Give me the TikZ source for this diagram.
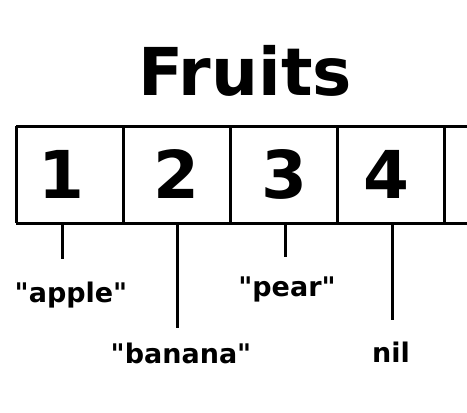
\documentclass[tikz,border=0pt]{standalone}
\usepackage{fontspec}
\setmainfont{DejaVu Sans}
\usetikzlibrary{positioning}

\begin{document}
\begin{tikzpicture}[
		x=1pt,y=-1pt,
		line width=3pt,
		every node/.style={font=\bfseries, inner sep=0pt},
		title/.style={font=\bfseries\fontsize{66}{66}\selectfont},
		digit/.style={font=\bfseries\fontsize{66}{66}\selectfont},
		word/.style={font=\bfseries\fontsize{27}{27}\selectfont}
		]
		\useasboundingbox (0,0) rectangle (467,413);
		
		% =========================
		% title
		% =========================
		\node[title] (ttl) at (245,71) {Fruits};
		
		% =========================
		% array cells
		% =========================
		\draw (16,126) -- (467,126);
		\draw (16,223) -- (467,223);
		\foreach \xx in {16,123,230,337,444}
		\draw (\xx,126) -- (\xx,223);
		
		\node[digit] (d1) at (61,174) {1};
		\node[digit] (d2) at (176,174) {2};
		\node[digit] (d3) at (284,174) {3};
		\node[digit] (d4) at (386,174) {4};
		
		% =========================
		% values hanging below
		% =========================
		\coordinate (t1) at (62,223);
		\coordinate (e1) at (62,259);
		\coordinate (t2) at (177,223);
		\coordinate (e2) at (177,328);
		\coordinate (t3) at (285,223);
		\coordinate (e3) at (285,257);
		\coordinate (t4) at (392,223);
		\coordinate (e4) at (392,320);
		
		\draw (t1) -- (e1);
		\draw (t2) -- (e2);
		\draw (t3) -- (e3);
		\draw (t4) -- (e4);
		
		\node[word] (v1) at (71,295) {\textquotedbl apple\textquotedbl};
		\node[word] (v2) at (181,353) {\textquotedbl banana\textquotedbl};
		\node[word] (v3) at (287,289) {\textquotedbl pear\textquotedbl};
		\node[word] (v4) at (391,352) {nil};
		
	\end{tikzpicture}
\end{document}
